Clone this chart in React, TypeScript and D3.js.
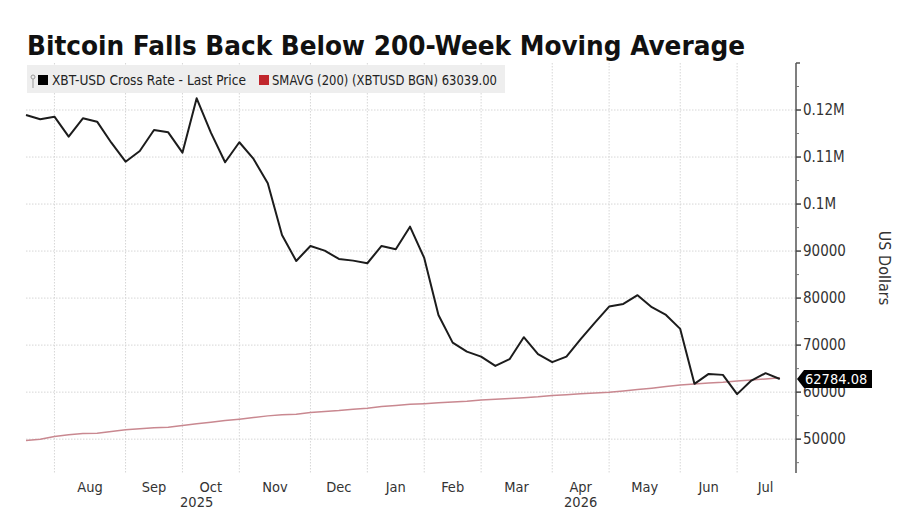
import React from "react";
import * as d3 from "d3";

// weekly closes, first week ending 2025-07-20
const startWeek = new Date(2025, 6, 20);
const lastPrice = [
  118940, 118030, 118580, 114330, 118240, 117520, 113050, 109010, 111290, 115750,
  115260, 110930, 122490, 115180, 108890, 113140, 109590, 104420, 93430, 87900,
  91090, 90090, 88330, 87970, 87410, 91090, 90390, 95190, 88540, 76420,
  70530, 68620, 67560, 65580, 67010, 71680, 68070, 66370, 67560, 71260,
  74790, 78190, 78760, 80610, 78060, 76420, 73450, 61760, 63880, 63670,
  59570, 62460, 64030, 62784.08,
];
const smavg = [
  49700, 50000, 50550, 50910, 51190, 51270, 51620, 51980, 52190, 52400,
  52550, 52890, 53250, 53610, 53960, 54250, 54590, 54950, 55170, 55310,
  55650, 55870, 56080, 56380, 56590, 56930, 57140, 57400, 57550, 57750,
  57900, 58050, 58350, 58500, 58650, 58800, 59000, 59270, 59450, 59650,
  59800, 59990, 60250, 60550, 60850, 61200, 61540, 61750, 61950, 62100,
  62390, 62600, 62800, 63039,
];
const majorTicks = [50000, 60000, 70000, 80000, 90000, 100000, 110000, 120000];
const minorTicks = [45000, 55000, 65000, 75000, 85000, 95000, 105000, 115000, 125000];
const title = "Bitcoin Falls Back Below 200-Week Moving Average";
const legendPrice = "XBT-USD Cross Rate - Last Price";
const legendSma = "SMAVG (200) (XBTUSD BGN) 63039.00";

const W = 900;
const H = 510;
const left = 26;
const axisX = 796;
const top = 63;
const bottom = 473;
const font = "'DejaVu Sans Condensed', 'DejaVu Sans', sans-serif";

const fmtY = (v: number) => (v >= 100000 ? `${v / 1000000}M` : `${v}`);

export default function App() {
  const dates = lastPrice.map((_, i) => d3.timeDay.offset(startWeek, 7 * i));
  const endDate = d3.timeDay.offset(startWeek, 7 * lastPrice.length);

  const x = d3.scaleTime().domain([startWeek, endDate]).range([left, 794]);
  const y = d3.scaleLinear().domain([42800, 130000]).range([bottom, top]);

  // first weekly point of each month carries a grid line
  const monthStarts = dates.filter(
    (d, i) => i > 0 && d.getMonth() !== dates[i - 1].getMonth()
  );
  const bounds = [...monthStarts, endDate];
  const monthLabels = monthStarts.map((d, i) => ({
    text: d3.timeFormat("%b")(d),
    cx: (x(d) + x(bounds[i + 1])) / 2,
  }));
  const janStart = monthStarts.find((d) => d.getMonth() === 0)!;
  const yearLabels = [
    { text: "2025", cx: (x(startWeek) + x(janStart)) / 2 },
    { text: "2026", cx: (x(janStart) + x(endDate)) / 2 },
  ];

  const priceLine = d3
    .line<number>()
    .x((_, i) => x(dates[i]))
    .y((v) => y(v));

  const last = lastPrice[lastPrice.length - 1];
  const ty = y(last);

  return (
    <div style={{ position: "absolute", left: 0, top: 0 }}>
      <svg width={W} height={H} style={{ display: "block", background: "#fff" }}>
        <text
          x={27}
          y={55}
          fontFamily={font}
          fontWeight="bold"
          fontSize={27}
          fill="#111"
          textLength={718}
          lengthAdjust="spacingAndGlyphs"
        >
          {title}
        </text>

        {/* grid */}
        <g stroke="#d6d6d6" strokeWidth={1} strokeDasharray="1.5,1.5">
          {majorTicks.map((t) => (
            <line key={t} x1={left} x2={axisX} y1={y(t)} y2={y(t)} />
          ))}
          {monthStarts.map((d) => (
            <line key={+d} x1={x(d)} x2={x(d)} y1={top} y2={bottom} />
          ))}
        </g>

        {/* legend */}
        <rect x={27} y={65} width={478} height={28} fill="#eeeeee" />
        <g stroke="#999" strokeWidth={1} fill="none">
          <line x1={33} x2={33} y1={79} y2={88} />
          <circle cx={33} cy={77} r={2} />
        </g>
        <rect x={38} y={75} width={10} height={10} fill="#000" />
        <text
          x={52}
          y={85}
          fontFamily={font}
          fontSize={13.5}
          fill="#222"
          textLength={194}
          lengthAdjust="spacingAndGlyphs"
        >
          {legendPrice}
        </text>
        <rect x={259} y={75} width={10} height={10} fill="#c1272d" />
        <text
          x={272}
          y={85}
          fontFamily={font}
          fontSize={13.5}
          fill="#222"
          textLength={225}
          lengthAdjust="spacingAndGlyphs"
        >
          {legendSma}
        </text>

        {/* series */}
        <path
          d={priceLine(smavg) ?? ""}
          fill="none"
          stroke="#c98890"
          strokeWidth={1.5}
        />
        <path
          d={priceLine(lastPrice) ?? ""}
          fill="none"
          stroke="#1c1c1c"
          strokeWidth={2}
          strokeLinejoin="round"
        />

        {/* right axis */}
        <line x1={axisX} x2={axisX} y1={top} y2={bottom} stroke="#555" strokeWidth={1.5} />
        <line x1={axisX} x2={axisX + 4} y1={top} y2={top} stroke="#555" strokeWidth={1.5} />
        {minorTicks.map((t) => (
          <line key={t} x1={axisX} x2={axisX + 3} y1={y(t)} y2={y(t)} stroke="#777" />
        ))}
        {majorTicks.map((t) => (
          <g key={t}>
            <line x1={axisX} x2={axisX + 5} y1={y(t)} y2={y(t)} stroke="#444" strokeWidth={1.5} />
            <text
              x={803}
              y={y(t) + 5}
              fontFamily={font}
              fontSize={15}
              fill="#333"
            >
              {fmtY(t)}
            </text>
          </g>
        ))}
        <text
          transform="translate(879,268) rotate(90)"
          textAnchor="middle"
          fontFamily={font}
          fontSize={16}
          fill="#333"
        >
          US Dollars
        </text>

        {/* last value tag */}
        <path
          d={`M${axisX + 1},${ty} L${axisX + 8},${ty - 9} H872 V${ty + 9} H${axisX + 8} Z`}
          fill="#000"
        />
        <text x={805} y={ty + 5} fontFamily={font} fontSize={14.5} fill="#fff">
          {d3.format(".2f")(last)}
        </text>

        {/* time axis */}
        {monthLabels.map((m) => (
          <text
            key={m.text}
            x={m.cx}
            y={492}
            textAnchor="middle"
            fontFamily={font}
            fontSize={14.5}
            fill="#333"
          >
            {m.text}
          </text>
        ))}
        {yearLabels.map((m) => (
          <text
            key={m.text}
            x={m.cx}
            y={507}
            textAnchor="middle"
            fontFamily={font}
            fontSize={14.5}
            fill="#333"
          >
            {m.text}
          </text>
        ))}
      </svg>
    </div>
  );
}
